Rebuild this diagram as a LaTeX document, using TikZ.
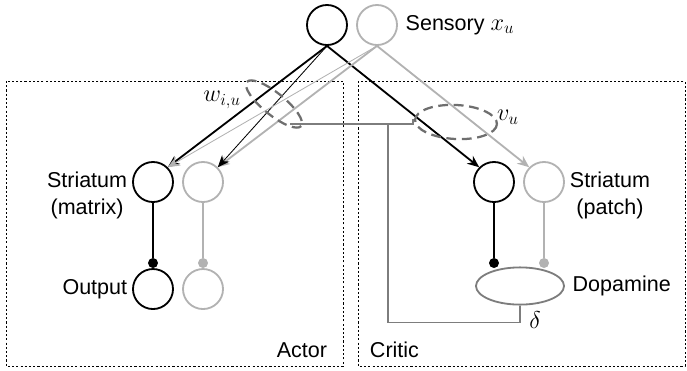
\documentclass[tikz,border=0pt]{standalone}
\usepackage{fontspec}
\setmainfont{Liberation Sans}
\usepackage{tikz}
\usetikzlibrary{arrows,arrows.meta,positioning,shapes.geometric}
\definecolor{lightg}{RGB}{178,178,178}
\definecolor{darkg}{RGB}{125,125,125}
\definecolor{dashg}{RGB}{110,110,110}
\newcommand{\mathsz}{\fontsize{18}{19}\selectfont}
\tikzset{
    %Define standard arrow tip
    >={Stealth[length=8.5pt,width=7pt]},
    %Define style for units
    unit/.style={
           circle, draw=black, line width=1.3pt,
           minimum size=1cm, inner sep=0pt},
    unitg/.style={
           unit, draw=lightg},
    % Define arrow styles
    pil/.style={
           ->,
           line width=1.3pt},
    thinpil/.style={
           ->,
           line width=0.6pt},
    lbl/.style={
           font=\fontsize{15.3}{19}\selectfont},
    mlbl/.style={
           font=\mathsz}
}

\begin{document}
\begin{tikzpicture}[x=0.025cm, y=-0.025cm, node distance=1.25cm, on grid]
	% Styles
	\tikzstyle{dot} = [circle, minimum size=0.25cm, fill, inner sep=0pt]
	\tikzstyle{box} = [draw, line width=0.6pt, dash pattern=on 1.5pt off 1.5pt]
	\tikzstyle{sel} = [draw=dashg, line width=1.6pt, dash pattern=on 7pt off 4pt]
	\tikzstyle{fb} = [draw=darkg, line width=1.3pt]
	\tikzstyle{dopa} = [ellipse, draw=darkg, line width=1.3pt, minimum width=2.2cm, minimum height=0.93cm, inner sep=0pt]

	\useasboundingbox (0,0) rectangle (687,370);

	% Boxes
	\draw[box] (6,81) rectangle (343,366);
	\draw[box] (358,81) rectangle (685,366);
	\node[lbl, anchor=east] (actor) at (332,350) {Actor};
	\node[lbl, anchor=west] (critic) at (365,350) {Critic};

	% Units
	\node[unit] (sens) at (327,25) {};
	\node[unitg, right=of sens, label={[lbl, label distance=2pt]right:Sensory {\mathsz$x_u$}}] (sensg) {};

	\node[unit] (smat) at (153,182) {};
	\node[unitg, right=of smat] (smatg) {};
	\node[lbl, align=center, anchor=east] (smatlbl) at ([yshift=-9.5pt]smat.west) {Striatum\\(matrix)};
	\node[dot, below=2.025cm of smat] (dmat) {};
	\node[dot, lightg, below=2.025cm of smatg] (dmatg) {};
	\node[unit, below=2.675cm of smat, label={[lbl]left:Output}] (out) {};
	\node[unitg, right=of out] (outg) {};

	\node[unit] (spat) at (494,182) {};
	\node[unitg, right=of spat] (spatg) {};
	\node[lbl, align=center, anchor=west] (spatlbl) at ([yshift=-9.5pt]spatg.east) {Striatum\\(patch)};
	\node[dot, below=2.025cm of spat] (dpat) {};
	\node[dot, lightg, below=2.025cm of spatg] (dpatg) {};
	\node[dopa, label={[lbl, label distance=2pt]right:Dopamine}] (dop) at (520,286) {};

	% Connections
	\path[pil] (sens.south) edge (smat.north east)
	           (sens.south) edge (spat.north west);
	\path[pil, lightg] (sensg.south) edge (smatg.north east)
	           (sensg.south) edge (spatg.north west);
	\path[thinpil] (sens.south) edge (smatg.north east);
	\path[thinpil, lightg] (sensg.south) edge (smat.north east);

	\draw[line width=1pt] (smat) -- (dmat);
	\draw[line width=1pt, lightg] (smatg) -- (dmatg);
	\draw[line width=1pt] (spat) -- (dpat);
	\draw[line width=1pt, lightg] (spatg) -- (dpatg);

	% Feedback
	\coordinate (tee) at (388,124);
	\coordinate (wend) at (290,124);
	\coordinate (vend) at (413,124);
	\coordinate (vtip) at (413,119);
	\draw[fb] (dop.south) -- ++(0,17) -| (tee);
	\draw[fb] (wend) -- (vend) -- (vtip);

	% Weight sets
	\draw[sel, rotate around={-39:(274,104)}] (274,104) ellipse (35 and 11);
	\draw[sel, rotate around={-3:(456,122)}] (456,122) ellipse (41 and 17);
	\node[mlbl] (wlbl) at (222,100) {$w_{i,u}$};
	\node[mlbl] (vlbl) at (508,117) {$v_u$};
	\node[mlbl] (dlbl) at (535,320) {$\delta$};
\end{tikzpicture}
\end{document}
